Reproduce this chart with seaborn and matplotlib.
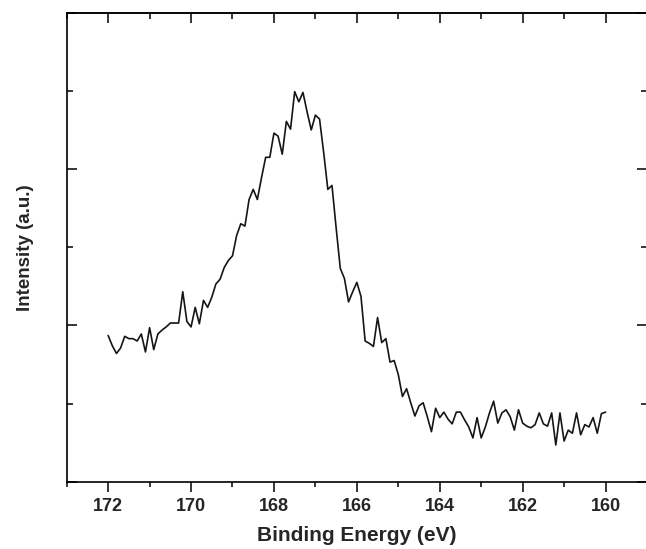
import matplotlib
matplotlib.use("Agg")
import matplotlib.pyplot as plt
import seaborn as sns
import pandas as pd
from matplotlib.ticker import MultipleLocator

# Binding energy (eV), 0.1 eV steps from 172.0 to 160.0
energy = [172.0, 171.9, 171.8, 171.7, 171.6, 171.5, 171.4, 171.3, 171.2, 171.1,
          171.0, 170.9, 170.8, 170.7, 170.6, 170.5, 170.4, 170.3, 170.2, 170.1,
          170.0, 169.9, 169.8, 169.7, 169.6, 169.5, 169.4, 169.3, 169.2, 169.1,
          169.0, 168.9, 168.8, 168.7, 168.6, 168.5, 168.4, 168.3, 168.2, 168.1,
          168.0, 167.9, 167.8, 167.7, 167.6, 167.5, 167.4, 167.3, 167.2, 167.1,
          167.0, 166.9, 166.8, 166.7, 166.6, 166.5, 166.4, 166.3, 166.2, 166.1,
          166.0, 165.9, 165.8, 165.7, 165.6, 165.5, 165.4, 165.3, 165.2, 165.1,
          165.0, 164.9, 164.8, 164.7, 164.6, 164.5, 164.4, 164.3, 164.2, 164.1,
          164.0, 163.9, 163.8, 163.7, 163.6, 163.5, 163.4, 163.3, 163.2, 163.1,
          163.0, 162.9, 162.8, 162.7, 162.6, 162.5, 162.4, 162.3, 162.2, 162.1,
          162.0, 161.9, 161.8, 161.7, 161.6, 161.5, 161.4, 161.3, 161.2, 161.1,
          161.0, 160.9, 160.8, 160.7, 160.6, 160.5, 160.4, 160.3, 160.2, 160.1,
          160.0]

# Intensity (arbitrary units)
intensity = [1.87, 1.74, 1.64, 1.71, 1.86, 1.83, 1.83, 1.80, 1.89, 1.66,
             1.97, 1.69, 1.89, 1.94, 1.98, 2.03, 2.03, 2.03, 2.43, 2.05,
             1.98, 2.23, 2.02, 2.32, 2.23, 2.36, 2.53, 2.59, 2.74, 2.83,
             2.89, 3.15, 3.30, 3.27, 3.61, 3.74, 3.61, 3.89, 4.15, 4.15,
             4.46, 4.42, 4.19, 4.61, 4.51, 4.99, 4.86, 4.98, 4.73, 4.50,
             4.69, 4.64, 4.21, 3.74, 3.79, 3.25, 2.73, 2.60, 2.30, 2.43,
             2.55, 2.37, 1.80, 1.77, 1.73, 2.10, 1.78, 1.83, 1.53, 1.55,
             1.37, 1.09, 1.19, 1.01, 0.84, 0.97, 1.01, 0.83, 0.64, 0.94,
             0.82, 0.89, 0.80, 0.74, 0.89, 0.89, 0.79, 0.70, 0.56, 0.82,
             0.56, 0.70, 0.88, 1.03, 0.75, 0.88, 0.92, 0.83, 0.66, 0.92,
             0.75, 0.71, 0.69, 0.73, 0.88, 0.74, 0.71, 0.88, 0.47, 0.88,
             0.52, 0.66, 0.62, 0.88, 0.60, 0.73, 0.70, 0.82, 0.62, 0.87,
             0.89]

x_ticks = [172, 170, 168, 166, 164, 162, 160]
x_label = "Binding Energy (eV)"
y_label = "Intensity (a.u.)"

df = pd.DataFrame({"energy": energy, "intensity": intensity})

sns.set_theme(style="ticks")
plt.rcParams["font.family"] = ["Liberation Sans", "DejaVu Sans"]

fig = plt.figure(figsize=(6.46, 5.49), dpi=100)
ax = fig.add_axes([66.7 / 646, 1 - 481.7 / 549, (647 - 66.7) / 646, (481.7 - 12.7) / 549])

sns.lineplot(data=df, x="energy", y="intensity", ax=ax, color="#151515",
             linewidth=1.2, estimator=None, sort=False)

ax.set_xlim(173, 159)
ax.set_ylim(0, 6)
ax.set_xticks(x_ticks)
ax.set_xticklabels([str(t) for t in x_ticks])
ax.xaxis.set_minor_locator(MultipleLocator(1))
ax.yaxis.set_major_locator(MultipleLocator(2))
ax.yaxis.set_minor_locator(MultipleLocator(1))
ax.set_yticklabels([])

for side in ["left", "right", "top", "bottom"]:
    ax.spines[side].set_visible(True)
    ax.spines[side].set_linewidth(1.2)
    ax.spines[side].set_color("black")

ax.tick_params(axis="x", which="major", direction="out", length=7, width=1.1,
               color="black", labelsize=13, pad=5, bottom=True, top=False)
ax.tick_params(axis="x", which="minor", direction="out", length=3.8, width=1.1,
               color="black", bottom=True, top=False)
ax.tick_params(axis="y", which="major", direction="in", length=7, width=1.1,
               color="black", left=True, right=True, labelleft=False)
ax.tick_params(axis="y", which="minor", direction="in", length=4, width=1.1,
               color="black", left=True, right=True)

# top ticks pointing inward
top = ax.secondary_xaxis("top")
top.set_xticks(x_ticks)
top.xaxis.set_minor_locator(MultipleLocator(1))
top.tick_params(axis="x", which="major", direction="in", length=7, width=1.1,
                color="black", labeltop=False)
top.tick_params(axis="x", which="minor", direction="in", length=4, width=1.1,
                color="black")
top.spines["top"].set_linewidth(1.2)

for lbl in ax.get_xticklabels():
    lbl.set_fontweight("bold")

ax.set_xlabel(x_label, fontsize=15, fontweight="bold", labelpad=8)
ax.set_ylabel(y_label, fontsize=13.5, fontweight="bold", labelpad=20)

fig.savefig("out.png", dpi=100)
